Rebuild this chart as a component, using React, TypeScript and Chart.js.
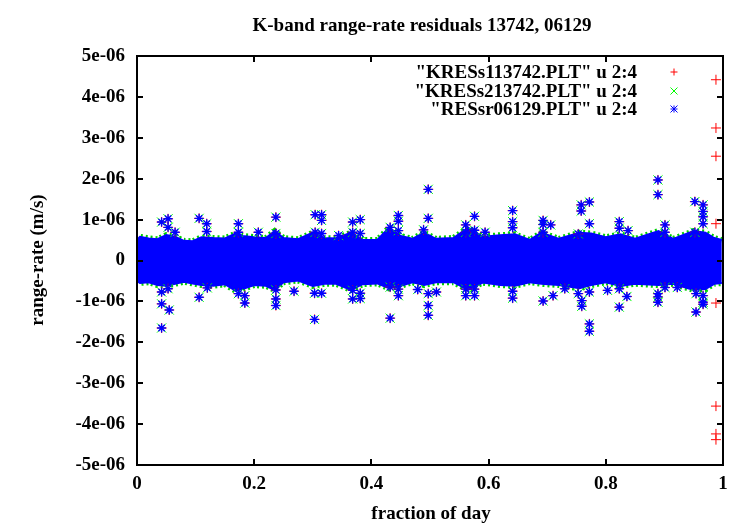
import React, { useEffect, useRef } from 'react';
import { Chart, registerables } from 'chart.js';

Chart.register(...registerables);

// y values are in units of 1e-6 m/s
const titleText = 'K-band range-rate residuals 13742, 06129';
const xTitle = 'fraction of day';
const yTitle = 'range-rate (m/s)';
const seriesNames = ['"KRESs113742.PLT" u 2:4', '"KRESs213742.PLT" u 2:4', '"RESsr06129.PLT" u 2:4'];
const seriesColors = ['#ff0000', '#00ff00', '#0000ff'];

const xTickValues = [0, 0.2, 0.4, 0.6, 0.8, 1];
const xTickLabels = ['0', '0.2', '0.4', '0.6', '0.8', '1'];
const yTickValues = [-5, -4, -3, -2, -1, 0, 1, 2, 3, 4, 5];
const yTickLabels = ['-5e-06', '-4e-06', '-3e-06', '-2e-06', '-1e-06', '0', '1e-06', '2e-06', '3e-06', '4e-06', '5e-06'];

// dense residual band envelope
const bandX = [0.000, 0.005, 0.020, 0.035, 0.050, 0.065, 0.080, 0.095, 0.110, 0.130, 0.150, 0.168, 0.180, 0.200, 0.220, 0.235, 0.250, 0.275, 0.300, 0.320, 0.340, 0.365, 0.385, 0.410, 0.430, 0.450, 0.470, 0.490, 0.510, 0.540, 0.565, 0.590, 0.620, 0.645, 0.670, 0.690, 0.720, 0.755, 0.775, 0.800, 0.825, 0.850, 0.890, 0.915, 0.950, 0.970, 0.985, 0.998];
const bandTop = [0.50, 0.58, 0.54, 0.52, 0.62, 0.58, 0.48, 0.47, 0.57, 0.55, 0.54, 0.66, 0.60, 0.57, 0.55, 0.72, 0.55, 0.52, 0.68, 0.55, 0.54, 0.68, 0.50, 0.50, 0.80, 0.60, 0.53, 0.68, 0.53, 0.55, 0.80, 0.58, 0.62, 0.64, 0.50, 0.68, 0.53, 0.68, 0.66, 0.57, 0.64, 0.53, 0.72, 0.53, 0.72, 0.68, 0.55, 0.50];
const bandBottom = [-0.50, -0.55, -0.53, -0.60, -0.62, -0.57, -0.52, -0.56, -0.60, -0.62, -0.58, -0.74, -0.70, -0.60, -0.62, -0.72, -0.53, -0.49, -0.62, -0.57, -0.57, -0.72, -0.58, -0.56, -0.68, -0.62, -0.53, -0.60, -0.53, -0.53, -0.72, -0.54, -0.60, -0.62, -0.53, -0.57, -0.60, -0.68, -0.60, -0.53, -0.62, -0.57, -0.60, -0.57, -0.72, -0.70, -0.57, -0.55];

// outliers above the band (shared by all three files)
const upperX = [0.042, 0.053, 0.053, 0.065, 0.106, 0.119, 0.119, 0.173, 0.173, 0.207, 0.237, 0.237, 0.304, 0.315, 0.315, 0.304, 0.315, 0.344, 0.368, 0.381, 0.368, 0.381, 0.432, 0.446, 0.446, 0.446, 0.489, 0.497, 0.497, 0.561, 0.561, 0.576, 0.576, 0.594, 0.641, 0.641, 0.641, 0.693, 0.693, 0.693, 0.706, 0.753, 0.758, 0.758, 0.772, 0.772, 0.823, 0.823, 0.838, 0.889, 0.889, 0.901, 0.901, 0.952, 0.952, 0.966, 0.966, 0.966, 0.966];
const upperY = [0.94, 1.02, 0.81, 0.69, 1.03, 0.90, 0.71, 0.90, 0.69, 0.69, 1.06, 0.66, 1.12, 1.12, 0.98, 0.69, 0.66, 0.61, 0.94, 1.00, 0.69, 0.66, 0.81, 1.10, 0.96, 0.73, 0.75, 1.74, 1.03, 0.87, 0.69, 1.08, 0.74, 0.69, 1.22, 0.95, 0.80, 0.98, 0.88, 0.69, 0.87, 0.65, 1.36, 1.21, 1.43, 0.90, 0.95, 0.79, 0.73, 1.97, 1.61, 0.87, 0.69, 1.44, 0.69, 1.36, 1.20, 1.07, 0.90];
// outliers below the band
const lowerX = [0.042, 0.042, 0.042, 0.055, 0.053, 0.106, 0.120, 0.173, 0.184, 0.184, 0.237, 0.237, 0.237, 0.268, 0.303, 0.303, 0.315, 0.368, 0.368, 0.381, 0.381, 0.432, 0.432, 0.446, 0.446, 0.479, 0.497, 0.497, 0.497, 0.511, 0.561, 0.561, 0.576, 0.576, 0.641, 0.641, 0.693, 0.710, 0.730, 0.753, 0.759, 0.759, 0.772, 0.772, 0.772, 0.803, 0.823, 0.823, 0.836, 0.889, 0.889, 0.889, 0.901, 0.922, 0.954, 0.954, 0.966, 0.966, 0.966];
const lowerY = [-0.77, -1.06, -1.65, -1.21, -0.69, -0.90, -0.67, -0.81, -0.86, -1.04, -0.72, -0.94, -1.10, -0.75, -0.80, -1.44, -0.80, -0.73, -0.94, -0.80, -0.93, -0.65, -1.41, -0.70, -0.86, -0.71, -0.81, -1.10, -1.34, -0.77, -0.70, -0.86, -0.70, -0.86, -0.75, -0.92, -0.99, -0.86, -0.69, -0.81, -0.98, -1.12, -0.77, -1.55, -1.73, -0.73, -0.69, -1.14, -0.88, -0.81, -0.89, -1.02, -0.66, -0.66, -0.81, -1.26, -0.86, -1.02, -1.07];
// points only in the first file, at the end of the day
const redEdgeX = [0.988, 0.988, 0.988, 0.988, 0.988, 0.988, 0.988, 0.988];
const redEdgeY = [4.42, 3.24, 2.55, 0.90, -1.04, -3.56, -4.24, -4.38];

const FONT = '"Liberation Serif", "Times New Roman", serif';

const toPts = (xs: number[], ys: number[]) => xs.map((x, i) => ({ x, y: ys[i] }));

function drawMarker(ctx: CanvasRenderingContext2D, kind: number, x: number, y: number) {
  const r = 3.5;
  ctx.save();
  ctx.strokeStyle = seriesColors[kind];
  ctx.lineWidth = 1;
  ctx.beginPath();
  if (kind === 0 || kind === 2) {
    ctx.moveTo(x - r, y); ctx.lineTo(x + r, y);
    ctx.moveTo(x, y - r); ctx.lineTo(x, y + r);
  }
  if (kind === 1 || kind === 2) {
    ctx.moveTo(x - r, y - r); ctx.lineTo(x + r, y + r);
    ctx.moveTo(x - r, y + r); ctx.lineTo(x + r, y - r);
  }
  ctx.stroke();
  ctx.restore();
}

const framePlugin = {
  id: 'gnuframe',
  afterDraw(chart: any) {
    const ctx: CanvasRenderingContext2D = chart.ctx;
    const a = chart.chartArea;
    const xs = chart.scales.x;
    const ys = chart.scales.y;
    ctx.save();
    ctx.strokeStyle = '#000';
    ctx.lineWidth = 2;
    ctx.strokeRect(a.left, a.top, a.right - a.left, a.bottom - a.top);
    const tl = 6;
    ctx.beginPath();
    xTickValues.forEach((v) => {
      const px = Math.round(xs.getPixelForValue(v));
      ctx.moveTo(px, a.bottom); ctx.lineTo(px, a.bottom - tl);
      ctx.moveTo(px, a.top); ctx.lineTo(px, a.top + tl);
    });
    yTickValues.forEach((v) => {
      const py = Math.round(ys.getPixelForValue(v));
      ctx.moveTo(a.left, py); ctx.lineTo(a.left + tl, py);
      ctx.moveTo(a.right, py); ctx.lineTo(a.right - tl, py);
    });
    ctx.stroke();

    ctx.fillStyle = '#000';
    ctx.font = `bold 19px ${FONT}`;
    ctx.textAlign = 'center';
    ctx.textBaseline = 'alphabetic';
    ctx.fillText(titleText, 422, 31);
    ctx.fillText(xTitle, 431, 519);
    ctx.save();
    ctx.translate(43, 260);
    ctx.rotate(-Math.PI / 2);
    ctx.fillText(yTitle, 0, 0);
    ctx.restore();

    ctx.textAlign = 'right';
    const rows = [72, 91, 109];
    seriesNames.forEach((n, i) => {
      ctx.fillText(n, 637, rows[i] + 6);
      drawMarker(ctx, i, 674, rows[i]);
    });
    ctx.restore();
  },
};

export default function App() {
  const ref = useRef<HTMLCanvasElement | null>(null);
  useEffect(() => {
    document.body.style.margin = '0';
    const canvas = ref.current;
    if (!canvas) return;
    const fringeStyle = {
      type: 'line' as const,
      showLine: true,
      pointRadius: 0,
      borderWidth: 6,
      borderColor: '#00d000',
      borderDash: [2, 3],
      fill: false,
      tension: 0,
      order: 8,
    };
    const bandStyle = {
      type: 'line' as const,
      showLine: true,
      pointRadius: 0,
      borderWidth: 2,
      borderColor: '#0000ff',
      backgroundColor: '#0000ff',
      tension: 0,
    };
    const chart = new Chart(canvas, {
      type: 'scatter',
      data: {
        datasets: [
          { ...bandStyle, label: 'band top', data: toPts(bandX, bandTop), fill: '+1', order: 5 } as any,
          { ...bandStyle, label: 'band bottom', data: toPts(bandX, bandBottom), fill: false, order: 6 } as any,
          { ...fringeStyle, label: 'fringe top', data: toPts(bandX, bandTop) } as any,
          { ...fringeStyle, label: 'fringe bottom', data: toPts(bandX, bandBottom) } as any,
          {
            label: seriesNames[0],
            data: [...toPts(upperX, upperY), ...toPts(lowerX, lowerY), ...toPts(redEdgeX, redEdgeY)],
            pointStyle: 'cross', pointRadius: 5, borderWidth: 1, borderColor: seriesColors[0], backgroundColor: seriesColors[0], order: 3,
          },
          {
            label: seriesNames[1],
            data: [...toPts(upperX, upperY), ...toPts(lowerX, lowerY)],
            pointStyle: 'crossRot', pointRadius: 6.5, borderWidth: 1, borderColor: seriesColors[1], backgroundColor: seriesColors[1], order: 2,
          },
          {
            label: seriesNames[2],
            data: [...toPts(upperX, upperY), ...toPts(lowerX, lowerY)],
            pointStyle: 'star', pointRadius: 4.5, borderWidth: 1.4, borderColor: seriesColors[2], backgroundColor: seriesColors[2], order: 1,
          },
        ],
      },
      options: {
        animation: false,
        responsive: false,
        events: [],
        layout: { padding: { top: 56, right: 27, left: 0, bottom: 0 } },
        plugins: {
          legend: { display: false },
          tooltip: { enabled: false },
          title: { display: false },
          filler: { drawTime: 'beforeDatasetDraw' },
        } as any,
        scales: {
          x: {
            type: 'linear',
            min: 0,
            max: 1,
            grid: { display: false, drawTicks: false },
            border: { display: false },
            afterBuildTicks: (s: any) => { s.ticks = xTickValues.map((v) => ({ value: v })); },
            afterFit: (s: any) => { s.height = 60; },
            ticks: {
              padding: 8,
              color: '#000',
              font: { family: FONT, size: 19, weight: 'bold' },
              maxRotation: 0,
              autoSkip: false,
              callback: (v: any) => { const i = xTickValues.indexOf(Number(v)); return i >= 0 ? xTickLabels[i] : ''; },
            },
          },
          y: {
            type: 'linear',
            min: -5,
            max: 5,
            grid: { display: false, drawTicks: false },
            border: { display: false },
            afterBuildTicks: (s: any) => { s.ticks = yTickValues.map((v) => ({ value: v })); },
            afterFit: (s: any) => { s.width = 137; },
            ticks: {
              padding: 12,
              color: '#000',
              font: { family: FONT, size: 19, weight: 'bold' },
              autoSkip: false,
              callback: (v: any) => { const i = yTickValues.indexOf(Number(v)); return i >= 0 ? yTickLabels[i] : ''; },
            },
          },
        },
      },
      plugins: [framePlugin],
    });
    return () => chart.destroy();
  }, []);
  return (
    <div style={{ position: 'absolute', left: 0, top: 0, width: 750, height: 525, background: '#fff' }}>
      <canvas ref={ref} width={750} height={525} style={{ display: 'block', width: 750, height: 525 }} />
    </div>
  );
}
